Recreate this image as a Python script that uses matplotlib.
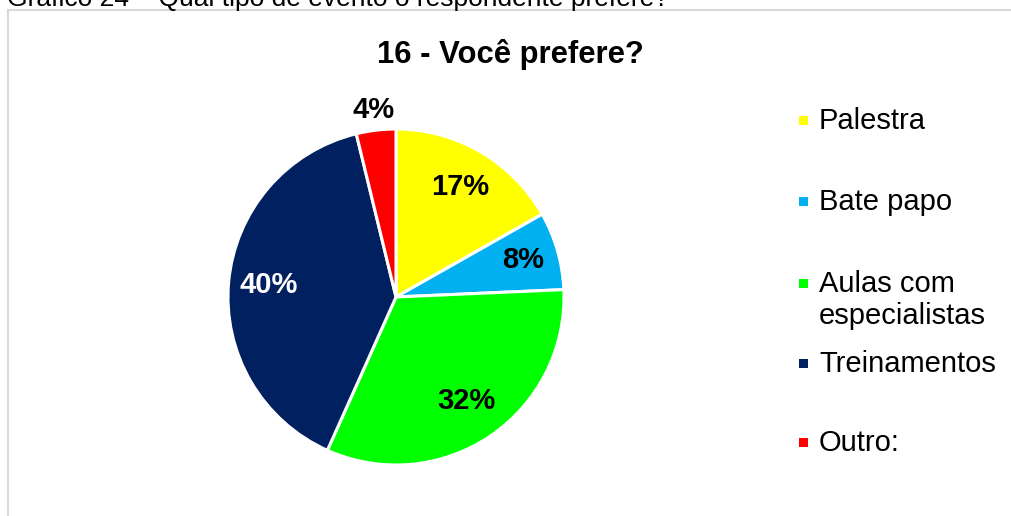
import matplotlib
matplotlib.use("Agg")
import matplotlib.pyplot as plt
from matplotlib.lines import Line2D
from matplotlib.patches import Rectangle
import numpy as np

plt.rcParams['font.family'] = ['Liberation Sans', 'DejaVu Sans']

# ---- data ----
categories = ["Palestra", "Bate papo", "Aulas com\nespecialistas", "Treinamentos", "Outro:"]
values = [16.8, 7.5, 32.4, 39.5, 3.8]
pct_labels = ["17%", "8%", "32%", "40%", "4%"]
colors = ["#FFFF00", "#00B0F0", "#00FF00", "#002060", "#FF0000"]
label_colors = ["black", "black", "black", "white", "black"]
title = "16 - Você prefere?"
caption = "Gráfico 24 – Qual tipo de evento o respondente prefere?"

W, H = 1011, 516
fig = plt.figure(figsize=(W / 100, H / 100), dpi=100)

def fx(px):
    return px / W

def fy(py):
    return 1 - py / H

# border (only top and left visible)
fig.add_artist(Line2D([fx(8), fx(8)], [fy(10), 0], color="#d9d9d9", lw=1.5))
fig.add_artist(Line2D([fx(8), 1], [fy(10), fy(10)], color="#d9d9d9", lw=1.5))

# caption cut at top
fig.text(fx(7), fy(6), caption, fontsize=19, va="baseline", ha="left", color="black")

# title
fig.text(fx(510), fy(63), title, fontsize=22.3, fontweight="bold", ha="center", va="baseline")

# pie
cx, cy, r = 396, 297, 168
ax = fig.add_axes([fx(cx - r), fy(cy + r), (2 * r) / W, (2 * r) / H])
wedges, _ = ax.pie(values, colors=colors, startangle=90, counterclock=False,
                   radius=1, wedgeprops=dict(edgecolor="white", linewidth=2.2))
ax.set_xlim(-1, 1)
ax.set_ylim(-1, 1)
ax.set_aspect("auto")
ax.axis("off")

dists = [0.76, 0.79, 0.75, 0.76, 1.12]
for w, lab, col, d in zip(wedges, pct_labels, label_colors, dists):
    ang = np.deg2rad((w.theta1 + w.theta2) / 2)
    ax.text(d * np.cos(ang), d * np.sin(ang), lab, ha="center", va="center",
            fontsize=21, fontweight="bold", color=col)

# legend (manual, Excel-like spacing)
marker_y = [120, 201, 283, 363, 442]
for cat, col, my in zip(categories, colors, marker_y):
    fig.add_artist(Rectangle((fx(799), fy(my + 5)), 9 / W, 9 / H, facecolor=col,
                             edgecolor="none", transform=fig.transFigure))
    for k, line in enumerate(cat.split("\n")):
        fig.text(fx(819), fy(my + 9 + 32 * k), line, fontsize=21, ha="left",
                 va="baseline")

fig.savefig("out.png", dpi=100)
